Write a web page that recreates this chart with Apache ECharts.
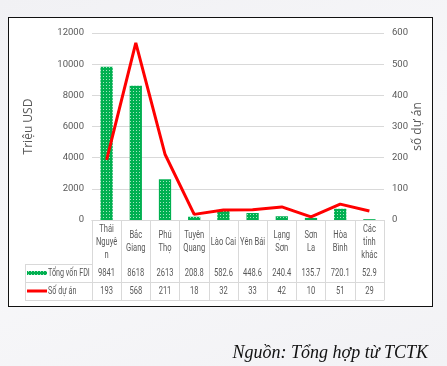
<!DOCTYPE html>
<html><head><meta charset="utf-8">
<script src="https://cdn.jsdelivr.net/npm/echarts@6/dist/echarts.min.js"></script>
<style>
html,body{margin:0;padding:0;width:447px;height:366px;overflow:hidden;background:linear-gradient(160deg,#f1f1f4 0%,#f7f7f9 50%,#f2f2f5 100%);}
#box{position:absolute;left:8px;top:17px;width:423px;height:288px;border:1.5px solid #111;background:#fff;}
#c{position:absolute;left:0;top:0;width:447px;height:366px;}
</style></head><body>
<div id="box"></div>
<div id="c"></div>
<script>
var categories = ['Thái\nNguyê\nn','Bắc\nGiang','Phú\nThọ','Tuyên\nQuang','Lào Cai','Yên Bái','Lạng\nSơn','Sơn\nLa','Hòa\nBình','Các\ntỉnh\nkhác'];
var fdiValues = [9841, 8618, 2613, 208.8, 582.6, 448.6, 240.4, 135.7, 720.1, 52.9];
var projectCounts = [193, 568, 211, 18, 32, 33, 42, 10, 51, 29];
var leftTicks = {min:0, max:12000, interval:2000};
var rightTicks = {min:0, max:600, interval:100};
var seriesNames = ['Tổng vốn FDI', 'Số dự án'];

var FONT = "Roboto,'Liberation Sans',sans-serif";
var TXT = '#595959';
var LINE = '#d9d9d9';
var SQ = 0.72;

var pc = document.createElement('canvas');
pc.width = 3; pc.height = 3;
var g = pc.getContext('2d');
g.fillStyle = '#00b050'; g.fillRect(0,0,3,3);
g.fillStyle = '#a6e3c2'; g.fillRect(1,1,1,1);
var green = {image: pc, repeat: 'repeat'};

var chart = echarts.init(document.getElementById('c'), null, {renderer:'canvas'});
var gridL = 92, gridW = 292, gridT = 33, gridH = 187;
var bottomY = gridT + gridH;
var row1 = bottomY + 44, row2 = bottomY + 62, row3 = bottomY + 80;

function rowAxis(offset){
  return {
    type:'category', data:categories, position:'bottom', offset:offset,
    axisLine:{show:true, lineStyle:{color:LINE, width:1}},
    axisTick:{show:false}, axisLabel:{show:false}
  };
}

chart.setOption({
  animation:false,
  textStyle:{fontFamily:FONT},
  title:{text:'Nguồn: Tổng hợp từ TCTK', right:14, top:339,
    textStyle:{fontFamily:"'Liberation Serif','DejaVu Serif',serif", fontStyle:'italic', fontWeight:'normal', fontSize:18, color:'#111'}},
  grid:{left:gridL, top:gridT, width:gridW, height:gridH},
  xAxis:[
    {type:'category', data:categories, position:'bottom',
      axisLine:{show:true, lineStyle:{color:LINE, width:1}},
      axisTick:{show:true, interval:0, length:80, lineStyle:{color:LINE, width:1}},
      axisLabel:{show:false}},
    rowAxis(44), rowAxis(62), rowAxis(80)
  ],
  yAxis:[
    {type:'value', min:leftTicks.min, max:leftTicks.max, interval:leftTicks.interval,
      name:'Triệu USD', nameLocation:'middle', nameRotate:90, nameGap:57, nameMoveOverlap:false,
      nameTextStyle:{color:TXT, fontFamily:"'Open Sans','Noto Sans',sans-serif", fontSize:12},
      axisLine:{show:false}, axisTick:{show:false},
      axisLabel:{color:TXT, fontFamily:FONT, fontSize:9.5, margin:8, formatter:function(v){return String(v);}},
      splitLine:{lineStyle:{color:LINE, width:1}}},
    {type:'value', min:rightTicks.min, max:rightTicks.max, interval:rightTicks.interval, position:'right',
      name:'số dự án', nameLocation:'middle', nameRotate:90, nameGap:28, nameMoveOverlap:false,
      nameTextStyle:{color:TXT, fontFamily:"'Open Sans','Noto Sans',sans-serif", fontSize:12},
      axisLine:{show:false}, axisTick:{show:false},
      axisLabel:{color:TXT, fontFamily:FONT, fontSize:9.5, margin:8, formatter:function(v){return String(v);}},
      splitLine:{show:false}}
  ],
  series:[
    {name:seriesNames[0], type:'bar', xAxisIndex:0, yAxisIndex:0, data:fdiValues, barWidth:'42%',
      itemStyle:{color:green}, z:2},
    {name:seriesNames[1], type:'line', xAxisIndex:0, yAxisIndex:1, data:projectCounts, showSymbol:false, symbol:'none',
      lineStyle:{color:'#ff0000', width:3}, itemStyle:{color:'#ff0000'}, z:3}
  ]
});

// Data-table text, placed at the category positions given by the x axis scale
function sqText(x, y, text, align, size){
  return {type:'text', x:x, y:y, scaleX:SQ, silent:true, z:10,
    style:{text:text, align:align, verticalAlign:'middle', fontFamily:FONT, fontSize:size, lineHeight:13, fill:TXT}};
}
var gfx = [
  {type:'line', silent:true, shape:{x1:25, y1:row1+0.5, x2:gridL, y2:row1+0.5}, style:{stroke:LINE, lineWidth:1}},
  {type:'line', silent:true, shape:{x1:25, y1:row2+0.5, x2:gridL, y2:row2+0.5}, style:{stroke:LINE, lineWidth:1}},
  {type:'line', silent:true, shape:{x1:25, y1:row3+0.5, x2:gridL, y2:row3+0.5}, style:{stroke:LINE, lineWidth:1}},
  {type:'line', silent:true, shape:{x1:25.5, y1:row1, x2:25.5, y2:row3}, style:{stroke:LINE, lineWidth:1}},
  {type:'rect', silent:true, shape:{x:27, y:(row1+row2)/2-2, width:20, height:4}, style:{fill:green}},
  {type:'rect', silent:true, shape:{x:27, y:(row2+row3)/2-1.5, width:20, height:3}, style:{fill:'#ff0000'}},
  sqText(48, (row1+row2)/2+0.5, seriesNames[0], 'left', 10),
  sqText(48, (row2+row3)/2+0.5, seriesNames[1], 'left', 10)
];
for (var i = 0; i < categories.length; i++) {
  var cx = chart.convertToPixel({xAxisIndex:0}, i);
  gfx.push(sqText(cx, (bottomY+row1)/2, categories[i], 'center', 10.5));
  gfx.push(sqText(cx, (row1+row2)/2+0.5, String(fdiValues[i]), 'center', 10.5));
  gfx.push(sqText(cx, (row2+row3)/2+0.5, String(projectCounts[i]), 'center', 10.5));
}
chart.setOption({graphic:gfx});
</script>
</body></html>
